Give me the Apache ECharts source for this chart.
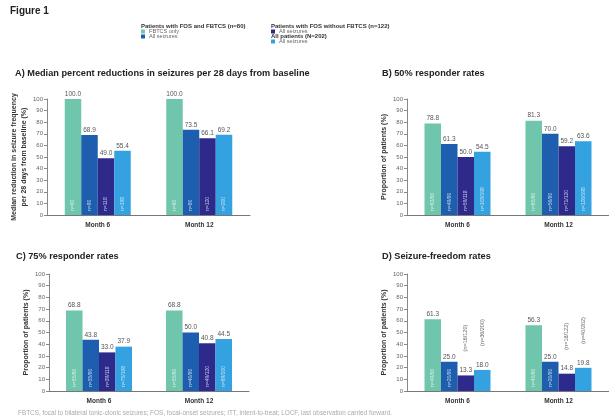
<!DOCTYPE html>
<html>
<head>
<meta charset="utf-8">
<script src="https://cdn.jsdelivr.net/npm/echarts@6/dist/echarts.min.js"></script>
<style>
  html, body { margin: 0; padding: 0; background: #fff; }
  #chart { width: 609px; height: 419px; }
</style>
</head>
<body>
<div id="chart"></div>
<script>
// Categories
const months = ['Month 6', 'Month 12'];

// A) Median percent reduction in seizures per 28 days from baseline (%)
const medianFbtcsOnly = [100.0, 100.0];
const medianFosFbtcsAll = [68.9, 73.5];
const medianFosNoFbtcsAll = [49.0, 66.1];
const medianAllPatients = [55.4, 69.2];
const medianN = [['n=80', 'n=80'], ['n=80', 'n=80'], ['n=118', 'n=120'], ['n=198', 'n=200']];

// B) 50% responder rates (%)
const r50FbtcsOnly = [78.8, 81.3];
const r50FosFbtcsAll = [61.3, 70.0];
const r50FosNoFbtcsAll = [50.0, 59.2];
const r50AllPatients = [54.5, 63.6];
const r50N = [['n=63/80', 'n=65/80'], ['n=49/80', 'n=56/80'], ['n=59/118', 'n=71/120'], ['n=108/198', 'n=126/198']];

// C) 75% responder rates (%)
const r75FbtcsOnly = [68.8, 68.8];
const r75FosFbtcsAll = [43.8, 50.0];
const r75FosNoFbtcsAll = [33.0, 40.8];
const r75AllPatients = [37.9, 44.5];
const r75N = [['n=55/80', 'n=55/80'], ['n=35/80', 'n=40/80'], ['n=39/118', 'n=49/120'], ['n=75/198', 'n=89/200']];

// D) Seizure-freedom rates (%)
const freeFbtcsOnly = [61.3, 56.3];
const freeFosFbtcsAll = [25.0, 25.0];
const freeFosNoFbtcsAll = [13.3, 14.8];
const freeAllPatients = [18.0, 19.8];
const freeN = [['n=49/80', 'n=45/80'], ['n=20/80', 'n=20/80'], ['(n=16/120)', '(n=18/122)'], ['(n=36/200)', '(n=40/202)']];

// Y-axis ticks
const yTicks = { min: 0, max: 100, interval: 10 };

const seriesNames = ['FBTCS only', 'All seizures (FOS and FBTCS)', 'All seizures (FOS without FBTCS)', 'All seizures (all patients)'];
const barColors = ['#6fc6ad', '#1d5fae', '#2d2a8c', '#34a2e0'];

const panels = [
  { title: 'A) Median percent reductions in seizures per 28 days from baseline', yName: 'Median reduction in seizure frequency\nper 28 days from baseline (%)',
    values: [medianFbtcsOnly, medianFosFbtcsAll, medianFosNoFbtcsAll, medianAllPatients], n: medianN, nAbove: [] },
  { title: 'B) 50% responder rates', yName: 'Proportion of patients (%)',
    values: [r50FbtcsOnly, r50FosFbtcsAll, r50FosNoFbtcsAll, r50AllPatients], n: r50N, nAbove: [] },
  { title: 'C) 75% responder rates', yName: 'Proportion of patients (%)',
    values: [r75FbtcsOnly, r75FosFbtcsAll, r75FosNoFbtcsAll, r75AllPatients], n: r75N, nAbove: [] },
  { title: 'D) Seizure-freedom rates', yName: 'Proportion of patients (%)',
    values: [freeFbtcsOnly, freeFosFbtcsAll, freeFosNoFbtcsAll, freeAllPatients], n: freeN, nAbove: [2, 3] }
];

const gridBoxes = [
  { left: 47, top: 99, width: 203, height: 116 },
  { left: 407, top: 99, width: 203, height: 116 },
  { left: 49, top: 274, width: 200, height: 117 },
  { left: 407, top: 274, width: 203, height: 117 }
];
const titlePos = [
  { left: 15, top: 69 }, { left: 382, top: 69 }, { left: 16, top: 252 }, { left: 382, top: 252 }
];

const FONT = 'Liberation Sans, Arial, sans-serif';

const titles = [
  { text: 'Figure 1', left: 10, top: 6, padding: 0, textStyle: { fontSize: 10, fontWeight: 'bold', color: '#222', fontFamily: FONT } },
  { text: 'FBTCS, focal to bilateral tonic-clonic seizures; FOS, focal-onset seizures; ITT, intent-to-treat; LOCF, last observation carried forward.',
    left: 18, top: 410, padding: 0, textStyle: { fontSize: 6.4, fontWeight: 'normal', color: '#aaa', fontFamily: FONT } }
];
panels.forEach((p, i) => {
  titles.push({ text: p.title, left: titlePos[i].left, top: titlePos[i].top, padding: 0,
    textStyle: { fontSize: 9.2, fontWeight: 'bold', color: '#222', fontFamily: FONT } });
});

const grids = gridBoxes.map(g => Object.assign({ containLabel: false }, g));

const xAxes = panels.map((p, i) => ({
  type: 'category', gridIndex: i, data: months,
  axisLine: { lineStyle: { color: '#777', width: 1 } },
  axisTick: { show: false },
  axisLabel: { fontSize: 6.5, fontWeight: 'bold', color: '#333', margin: 7, fontFamily: FONT }
}));

const yAxes = panels.map((p, i) => ({
  type: 'value', gridIndex: i, min: yTicks.min, max: yTicks.max, interval: yTicks.interval,
  name: p.yName, nameLocation: 'middle', nameGap: 16, nameRotate: 90,
  nameTextStyle: { fontSize: 7, fontWeight: 'bold', color: '#333', lineHeight: 10, fontFamily: FONT },
  axisLine: { show: true, lineStyle: { color: '#888', width: 1 } },
  axisTick: { show: true, length: 3, lineStyle: { color: '#888' } },
  axisLabel: { fontSize: 6, color: '#666', margin: 4, fontFamily: FONT },
  splitLine: { show: false }
}));

const series = [];
panels.forEach((p, pi) => {
  p.values.forEach((vals, si) => {
    const above = p.nAbove.indexOf(si) >= 0;
    series.push({
      type: 'bar', name: seriesNames[si], xAxisIndex: pi, yAxisIndex: pi,
      barWidth: 16.5, barGap: '0%', barCategoryGap: '0%',
      itemStyle: { color: barColors[si] },
      data: vals.map(v => above
        ? { value: v, label: { position: 'top', distance: 24, color: '#666', fontSize: 5.5 } }
        : { value: v }),
      label: {
        show: true, position: 'insideBottom', distance: 4, rotate: 90,
        align: 'left', verticalAlign: 'middle',
        fontSize: 5, color: 'rgba(255,255,255,0.7)', fontFamily: FONT,
        formatter: prm => p.n[si][prm.dataIndex]
      },
      markPoint: {
        symbol: 'rect', symbolSize: 0, silent: true,
        data: vals.map((v, ci) => ({ coord: [ci, v], value: v })),
        label: { show: true, position: 'top', distance: 1.5, fontSize: 6.5, color: '#555', fontFamily: FONT,
          formatter: prm => Number(prm.value).toFixed(1) }
      }
    });
  });
});

// Legend drawn as grouped swatches with headings (y = row centre line)
const legendItems = [
  { x: 141, y: 26.5, text: 'Patients with FOS and FBTCS (n=80)', bold: true },
  { x: 141, y: 31.5, text: 'FBTCS only', color: barColors[0] },
  { x: 141, y: 36.5, text: 'All seizures', color: barColors[1] },
  { x: 271, y: 26.5, text: 'Patients with FOS without FBTCS (n=122)', bold: true },
  { x: 271, y: 31.5, text: 'All seizures', color: barColors[2] },
  { x: 271, y: 36.5, text: 'All patients (N=202)', bold: true },
  { x: 271, y: 41.5, text: 'All seizures', color: barColors[3] }
];
const graphics = [];
legendItems.forEach(it => {
  if (it.color) {
    graphics.push({ type: 'rect', x: it.x, y: it.y - 2, shape: { x: 0, y: 0, width: 4, height: 4 }, style: { fill: it.color } });
    graphics.push({ type: 'text', x: it.x + 8, y: it.y,
      style: { text: it.text, fontSize: 5.6, fill: '#666', fontFamily: FONT, verticalAlign: 'middle', align: 'left' } });
  } else {
    graphics.push({ type: 'text', x: it.x, y: it.y,
      style: { text: it.text, fontSize: 6, fontWeight: 'bold', fill: '#333', fontFamily: FONT, verticalAlign: 'middle', align: 'left' } });
  }
});

const chart = echarts.init(document.getElementById('chart'), null, { renderer: 'canvas' });
chart.setOption({
  animation: false,
  backgroundColor: '#fff',
  title: titles,
  grid: grids,
  xAxis: xAxes,
  yAxis: yAxes,
  series: series,
  graphic: graphics
});
</script>
</body>
</html>
